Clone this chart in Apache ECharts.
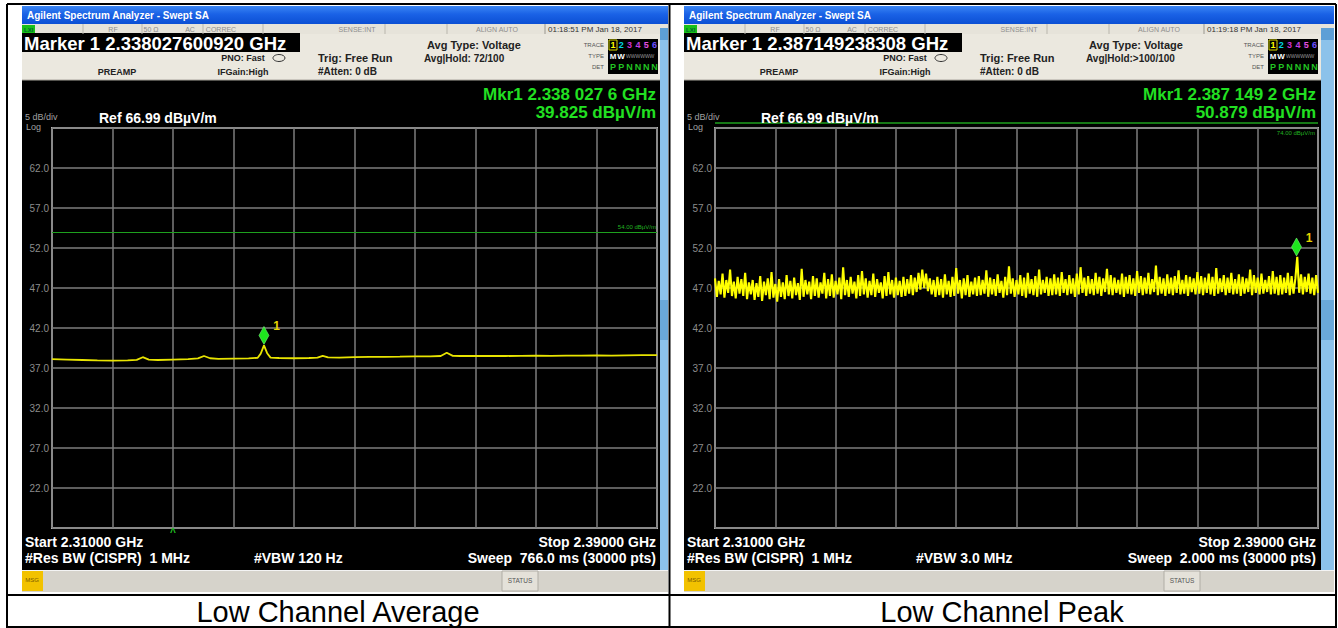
<!DOCTYPE html>
<html><head><meta charset="utf-8">
<script src="https://cdn.jsdelivr.net/npm/echarts@6/dist/echarts.min.js"></script>
<style>html,body{margin:0;padding:0;background:#fff}#c{width:1338px;height:628px}</style>
</head><body><div id="c"></div>
<script>
// ---------- data ----------
const yTickLabels = ['22.0','27.0','32.0','37.0','42.0','47.0','52.0','57.0','62.0'];
const captions = ['Low Channel Average', 'Low Channel Peak'];

// Average trace (MHz, dBµV/m)
const avgFreqMHz = [2310,2312,2314,2316,2318,2320,2321.2,2322.0,2322.8,2324,2326,2328,2329.3,2330.1,2330.9,2332,2334,2336,2337.2,2337.6,2338.03,2338.45,2338.9,2340,2342,2344,2345.1,2345.8,2346.5,2348,2350,2352,2354,2356,2358,2360,2361.4,2362.2,2363.0,2364,2366,2368,2370,2372,2374,2376,2378,2380,2382,2384,2386,2388,2390];
const avgLevel = [38.10,38.05,38.00,37.95,37.92,37.95,38.02,38.35,38.05,38.00,38.05,38.10,38.20,38.50,38.22,38.15,38.18,38.20,38.28,38.80,39.825,38.85,38.30,38.25,38.22,38.25,38.30,38.52,38.32,38.30,38.35,38.38,38.40,38.42,38.45,38.45,38.50,38.90,38.52,38.50,38.50,38.52,38.50,38.52,38.55,38.52,38.55,38.55,38.58,38.55,38.58,38.60,38.60];
const avgMarker = [2338.0276, 39.825];

// Peak trace: sweep points every 0.25 MHz from 2310 MHz
const peakStartMHz = 2310, peakStepMHz = 0.25;
const peakLevel = [
48.2,45.9,47.9,46.2,48.8,45.8,48.0,46.4,49.3,46.0,47.8,45.7,48.4,46.3,48.1,46.0,48.9,45.6,47.7,46.2,
48.0,45.5,47.6,45.9,48.5,45.4,47.8,46.1,48.2,45.6,49.0,45.8,47.5,45.3,48.1,45.9,47.7,45.6,48.6,46.0,
47.9,45.7,48.3,46.1,47.6,45.5,49.4,45.9,48.0,46.2,47.8,45.6,48.5,46.0,48.2,45.8,47.7,46.3,48.9,45.7,
48.1,46.0,48.7,45.8,47.9,46.2,48.3,45.6,49.6,46.1,48.0,45.9,48.4,46.3,47.8,45.7,48.6,46.0,49.1,46.2,
48.2,45.8,47.9,46.1,48.8,45.9,48.1,46.4,47.7,45.7,48.5,46.0,49.0,46.2,48.0,45.8,48.3,46.1,47.9,45.9,
48.4,46.0,48.1,46.3,48.6,46.1,48.3,46.5,48.9,46.8,49.3,47.0,48.8,46.6,48.2,46.2,48.0,45.9,48.4,46.1,
48.1,45.8,48.7,46.2,47.9,45.9,48.4,46.0,49.5,46.3,48.0,45.7,48.2,46.1,48.6,45.9,47.8,46.2,48.3,46.0,
48.5,46.1,48.0,46.3,49.2,45.9,48.3,46.2,48.1,46.0,48.7,46.4,47.9,45.8,48.4,46.1,49.7,46.3,48.2,45.9,
48.0,46.2,48.6,46.0,48.3,45.8,48.9,46.3,48.1,46.1,48.5,45.9,49.3,46.2,48.0,46.4,48.4,46.0,48.2,46.1,
48.7,46.2,48.3,46.0,49.0,46.4,48.1,46.1,48.6,46.3,48.2,45.9,48.8,46.2,49.6,46.4,48.3,46.0,48.5,46.3,
48.1,46.1,48.9,46.3,48.4,46.0,48.2,46.5,49.4,46.2,48.6,46.1,48.3,46.4,48.0,46.2,48.8,45.9,48.4,46.3,
48.6,46.2,48.2,46.0,49.1,46.4,48.5,46.1,48.3,46.3,48.9,46.2,48.1,46.5,49.8,46.1,48.4,46.3,48.2,46.0,
48.7,46.3,48.3,46.1,48.5,46.4,49.2,46.2,48.0,46.3,48.6,46.0,48.4,46.5,48.2,46.2,49.0,46.3,48.5,46.1,
48.3,46.4,48.8,46.2,48.4,46.0,49.5,46.3,48.2,46.5,48.6,46.1,48.3,46.4,48.9,46.2,48.1,46.3,48.7,46.0,
48.4,46.3,48.2,46.5,49.3,46.1,48.6,46.4,48.3,46.2,48.8,46.3,48.0,46.5,48.5,46.2,49.1,46.3,48.4,46.1,
48.6,46.2,48.3,46.4,48.9,46.1,48.5,46.3,48.2,50.9,46.4,48.7,46.2,48.4,46.5,48.8,46.3,48.3,46.1,48.6,46.4
];
const peakMarker = [2387.1492, 50.879];

const limitAvg = 54;

// ---------- helpers ----------
const FONT = '"Liberation Sans", Arial, sans-serif';
function R(x,y,w,h,fill,z,stroke,lw){return {type:'rect',shape:{x:x,y:y,width:w,height:h},style:{fill:fill,stroke:stroke||null,lineWidth:lw||0},z:z==null?1:z,silent:true};}
function L(x1,y1,x2,y2,stroke,lw,z){return {type:'line',shape:{x1:x1,y1:y1,x2:x2,y2:y2},style:{stroke:stroke,lineWidth:lw||1},z:z==null?5:z,silent:true};}
function T(x,y,s,size,fill,opt){opt=opt||{};const a=opt.align||'left';
  return {type:'text',x:x,y:y,style:{text:s,fill:fill,font:(opt.bold?'bold ':'')+size+'px '+FONT,textAlign:a,align:a,textVerticalAlign:'middle',verticalAlign:'middle'},z:opt.z==null?10:opt.z,silent:true};}

function panel(dx, P){
  const g=[];
  const sr=P.screenRight, br=P.blackRight;
  g.push(R(22+dx,6,sr-22-dx,586,'#ebe8df',-5));
  g.push({type:'rect',shape:{x:22+dx,y:6,width:sr-22-dx,height:18},style:{fill:{type:'linear',x:0,y:0,x2:0,y2:1,colorStops:[{offset:0,color:'#3a86f4'},{offset:0.45,color:'#1a62e6'},{offset:1,color:'#0b4fd4'}]}},z:-4,silent:true});
  g.push(T(27+dx,15,'Agilent Spectrum Analyzer - Swept SA',10,'#ffffff',{bold:true}));
  // status row
  g.push(R(22+dx,24,sr-22-dx,10,'#e6e3da',-4));
  g.push(R(22+dx,25,13,9,'#19c019',-3));
  g.push(T(24+dx,29.5,'LXI',6,'#063',{bold:true}));
  [83,142,203,263,385,447].forEach(function(x){g.push(L(x+dx,24,x+dx,34,'#b9b6ad',1,-2));});
  g.push(L(P.timeX-3,24,P.timeX-3,34,'#9a978f',1,-2));
  g.push(T(113+dx,29.5,'RF',7,'#8e8e8e',{align:'center'}));
  g.push(T(151+dx,29.5,'50 Ω',7,'#8e8e8e',{align:'center'}));
  g.push(T(190+dx,29.5,'AC',7,'#8e8e8e',{align:'center'}));
  g.push(T(221+dx,29.5,'CORREC',7,'#8e8e8e',{align:'center'}));
  g.push(T(357+dx,29.5,'SENSE:INT',7,'#8e8e8e',{align:'center'}));
  g.push(T(497+dx,29.5,'ALIGN AUTO',7,'#8e8e8e',{align:'center'}));
  g.push(T(P.timeX,29.5,P.time,8,'#333333'));
  // marker box
  g.push(R(22+dx,33,278,19,'#000000',-3));
  g.push(T(24+dx,43,P.marker,18.5,'#ffffff',{bold:true}));
  g.push(L(22+dx,80,br,80,'#a8a59c',1,-2));
  g.push(T(243+dx,58,'PNO: Fast',9,'#222',{bold:true,align:'center'}));
  g.push({type:'ellipse',shape:{cx:279+dx,cy:58,rx:6,ry:3.5},style:{fill:'none',stroke:'#333',lineWidth:1},z:6,silent:true});
  g.push(T(243+dx,72,'IFGain:High',9,'#222',{bold:true,align:'center'}));
  g.push(T(117+dx,72,'PREAMP',9,'#222',{bold:true,align:'center'}));
  g.push(T(318+dx,58,'Trig: Free Run',11,'#222',{bold:true}));
  g.push(T(318+dx,71,'#Atten: 0 dB',10,'#222',{bold:true}));
  g.push(T(427+dx,45,'Avg Type: Voltage',11,'#222',{bold:true}));
  g.push(T(424+dx,58,P.avgHold,10,'#222',{bold:true}));
  // trace box
  const tx=P.traceX;
  g.push(R(tx,39,50,35,'#000000',-3));
  g.push(T(tx-4,45,'TRACE',6,'#555',{align:'right'}));
  g.push(T(tx-4,56,'TYPE',6,'#555',{align:'right'}));
  g.push(T(tx-4,67,'DET',6,'#555',{align:'right'}));
  g.push(R(tx+1,40,8,10,'none',7,'#d8d800',1));
  const tc=['#ffff00','#00d8e0','#d030d0','#c040e0','#e050e0','#7050ff'];
  for(let i=0;i<6;i++){g.push(T(tx+5+i*8.3,45,String(i+1),9,tc[i],{bold:true,align:'center'}));}
  g.push(T(tx+5,56,'M',8,'#ffffff',{bold:true,align:'center'}));
  g.push(T(tx+13,56,'W',8,'#ffffff',{bold:true,align:'center'}));
  g.push(T(tx+18,56,'WWWWWW',5,'#9a9a9a'));
  ['P','P','N','N','N','N'].forEach(function(c,i){g.push(T(tx+5+i*8.3,67,c,9,'#22c422',{bold:true,align:'center'}));});
  // black screen
  g.push(R(22+dx,80,br-22-dx,490,'#000000',-3));
  g.push(R(br,28,sr-br,542,'#8cc2ea',-3));
  g.push(R(br,28,sr-br,12,'#5d9fd6',-2));
  g.push(R(br,300,sr-br,40,'#6aa8da',-2));
  g.push(T(P.mkrRight,94,P.mkr1,17,'#22e022',{bold:true,align:'right'}));
  g.push(T(P.mkrRight,112,P.mkr2,17,'#22e022',{bold:true,align:'right'}));
  g.push(T(25+dx,116.5,'5 dB/div',9,'#a0a0a0'));
  g.push(T(26+dx,127,'Log',9,'#a0a0a0'));
  g.push(T(99+dx,118,'Ref 66.99 dBµV/m',14,'#ffffff',{bold:true}));
  g.push(T(25+dx,542,'Start 2.31000 GHz',14,'#ffffff',{bold:true}));
  g.push(T(25+dx,558,'#Res BW (CISPR)  1 MHz',14,'#ffffff',{bold:true}));
  g.push(T(254+dx,558,P.vbw,14,'#ffffff',{bold:true}));
  g.push(T(P.mkrRight,542,'Stop 2.39000 GHz',14,'#ffffff',{bold:true,align:'right'}));
  g.push(T(P.mkrRight,558,P.sweep,14,'#ffffff',{bold:true,align:'right'}));
  // MSG bar
  g.push(R(22+dx,570,sr-22-dx,22,'#d6d3cb',-3));
  g.push(L(22+dx,570.5,sr,570.5,'#f4f4f4',1,-2));
  g.push(R(22+dx,571,21,20,'#f2c200',-2));
  g.push(T(32+dx,580,'MSG',6,'#7a5a00',{align:'center'}));
  g.push(R(P.statusX,571,36,20,'#e4e1d9',-2,'#b0ada5',1));
  g.push(T(P.statusX+18,580,'STATUS',6.5,'#555',{align:'center'}));
  return g;
}

const graphics = [].concat(
  panel(0,{screenRight:668,blackRight:660,timeX:548,time:'01:18:51 PM Jan 18, 2017',marker:'Marker 1 2.338027600920 GHz',avgHold:'Avg|Hold: 72/100',traceX:608,mkrRight:656,mkr1:'Mkr1 2.338 027 6 GHz',mkr2:'39.825 dBµV/m',vbw:'#VBW 120 Hz',sweep:'Sweep  766.0 ms (30000 pts)',statusX:502}),
  panel(662,{screenRight:1334,blackRight:1321,timeX:1207,time:'01:19:18 PM Jan 18, 2017',marker:'Marker 1 2.387149238308 GHz',avgHold:'Avg|Hold:>100/100',traceX:1268,mkrRight:1316,mkr1:'Mkr1 2.387 149 2 GHz',mkr2:'50.879 dBµV/m',vbw:'#VBW 3.0 MHz',sweep:'Sweep  2.000 ms (30000 pts)',statusX:1164}),
  [
    T(173,532,'^',10,'#22c422',{bold:true,align:'center'}),
    L(715,123,1318,123,'#1ea01e',1.5,6),
    T(1315,133,'74.00 dBµV/m',6,'#22b022',{align:'right'}),
    // table borders
    L(7,4,1336,4,'#000',2,20),
    L(7,4,7,628,'#000',2,20),
    L(669.5,4,669.5,628,'#000',2,20),
    L(1336,4,1336,628,'#000',2,20),
    L(7,595,1336,595,'#000',2,20),
    L(7,627,1336,627,'#000',2,20),
    T(338,612,captions[0],29,'#000',{align:'center'}),
    T(1002,612,captions[1],29,'#000',{align:'center'})
  ]
);

// ---------- chart ----------
const avgData = avgFreqMHz.map(function(f,i){return [f, avgLevel[i]];});
const peakData = peakLevel.map(function(v,i){return [peakStartMHz + i*peakStepMHz, v];});

function yAx(gi){return {type:'value',gridIndex:gi,min:17,max:67,interval:5,
  axisLine:{show:false},axisTick:{show:false},
  axisLabel:{color:'#8c8c8c',fontSize:10,fontFamily:FONT,margin:3,
    formatter:function(v){const s=yTickLabels.find(function(t){return Math.abs(parseFloat(t)-v)<0.1;});return s||'';}},
  splitLine:{lineStyle:{color:'#7c7c7c',width:1.5}}};}
function xAx(gi){return {type:'value',gridIndex:gi,min:2310,max:2390,interval:8,
  axisLine:{show:false},axisTick:{show:false},axisLabel:{show:false},
  splitLine:{lineStyle:{color:'#7c7c7c',width:1.5}}};}

const mkPoint = function(c){return {symbol:'diamond',symbolSize:[10,18],symbolOffset:[0,-10],
  itemStyle:{color:'#1ee61e',borderColor:'#8cff8c',borderWidth:0.5},
  label:{show:true,formatter:'1',position:'right',offset:[-1,-9],color:'#e6d400',fontSize:12,fontWeight:'bold',fontFamily:FONT},
  data:[{coord:c}]};};

const option = {
  animation:false,
  backgroundColor:'#ffffff',
  graphic:{elements:graphics},
  grid:[
    {left:52,top:128,width:605,height:400,show:true,borderColor:'#b4b4b4',borderWidth:2,backgroundColor:'transparent',containLabel:false},
    {left:715,top:128,width:603,height:400,show:true,borderColor:'#b4b4b4',borderWidth:2,backgroundColor:'transparent',containLabel:false}
  ],
  xAxis:[xAx(0),xAx(1)],
  yAxis:[yAx(0),yAx(1)],
  series:[
    {type:'line',xAxisIndex:0,yAxisIndex:0,data:avgData,showSymbol:false,symbol:'none',
     lineStyle:{color:'#e8e400',width:1.8},z:3,
     markLine:{silent:true,symbol:'none',lineStyle:{color:'#1ea01e',width:1.2,type:'solid'},
       label:{show:true,position:'insideEndTop',formatter:'54.00 dBµV/m',color:'#22b022',fontSize:6,fontFamily:FONT,distance:[1,2]},
       data:[{yAxis:limitAvg}]},
     markPoint:mkPoint(avgMarker)},
    {type:'line',xAxisIndex:1,yAxisIndex:1,data:peakData,showSymbol:false,symbol:'none',sampling:null,
     lineStyle:{color:'#ffff00',width:2.1},z:3,
     markPoint:mkPoint(peakMarker)}
  ]
};
const chart = echarts.init(document.getElementById('c'),null,{renderer:'svg',width:1338,height:628});
chart.setOption(option);
</script>
</body></html>
